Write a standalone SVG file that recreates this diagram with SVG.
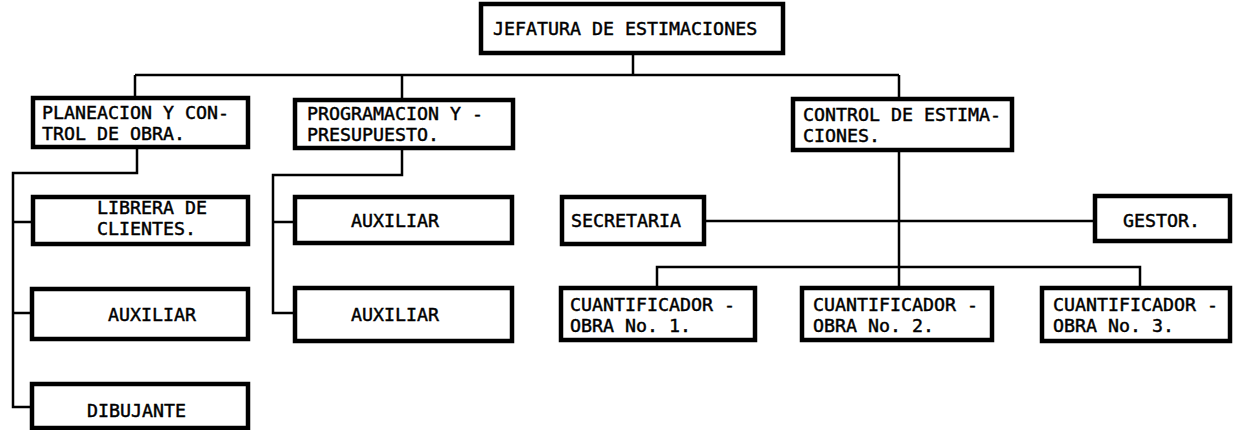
<svg xmlns="http://www.w3.org/2000/svg" width="1233" height="430" viewBox="0 0 1233 430">
<style>
.box{fill:#fff;stroke:#000;stroke-width:4.5}
.t{font-family:"DejaVu Sans Mono","Liberation Mono",monospace;font-size:18.3px;fill:#000;stroke:#000;stroke-width:0.45}
.c{fill:none;stroke:#000;stroke-width:2.5}
</style>
<rect width="1233" height="430" fill="#fff"/>
<g id="connectors">
<path class="c" d="M633 53V75M135 75H899M135 75V98M402 75V100M899 75V99"/>
<path class="c" d="M137 147V173H13V407H33M13 222H33M13 313H33"/>
<path class="c" d="M402 148V175H273V313H295M273 222H295"/>
<path class="c" d="M899 150V288M704 221H1095M657 288V267H1140V288"/>
</g>
<g id="n-jefatura"><rect class="box" x="481" y="4" width="302" height="49"/><text class="t" x="493" y="35">JEFATURA DE ESTIMACIONES</text></g>
<g id="n-planeacion"><rect class="box" x="33" y="98" width="215" height="49"/><text class="t" x="42" y="119">PLANEACION Y CON-</text><text class="t" x="42" y="140">TROL DE OBRA.</text></g>
<g id="n-programacion"><rect class="box" x="295" y="100" width="218" height="48"/><text class="t" x="307" y="120">PROGRAMACION Y -</text><text class="t" x="307" y="141">PRESUPUESTO.</text></g>
<g id="n-control"><rect class="box" x="793" y="99" width="219" height="51"/><text class="t" x="803" y="121">CONTROL DE ESTIMA-</text><text class="t" x="803" y="142">CIONES.</text></g>
<g id="n-librera"><rect class="box" x="33" y="197" width="215" height="47"/><text class="t" x="97" y="214">LIBRERA DE</text><text class="t" x="97" y="235">CLIENTES.</text></g>
<g id="n-auxiliar1"><rect class="box" x="32" y="289" width="216" height="50"/><text class="t" x="108" y="321">AUXILIAR</text></g>
<g id="n-dibujante"><rect class="box" x="32" y="384" width="216" height="44"/><text class="t" x="87" y="417">DIBUJANTE</text></g>
<g id="n-auxiliar2"><rect class="box" x="295" y="197" width="217" height="46"/><text class="t" x="351" y="227">AUXILIAR</text></g>
<g id="n-auxiliar3"><rect class="box" x="295" y="288" width="217" height="53"/><text class="t" x="351" y="321">AUXILIAR</text></g>
<g id="n-secretaria"><rect class="box" x="562" y="197" width="142" height="47"/><text class="t" x="571" y="227">SECRETARIA</text></g>
<g id="n-gestor"><rect class="box" x="1095" y="196" width="135" height="45"/><text class="t" x="1123" y="227">GESTOR.</text></g>
<g id="n-cuant1"><rect class="box" x="561" y="288" width="194" height="52"/><text class="t" x="570" y="311">CUANTIFICADOR -</text><text class="t" x="570" y="332">OBRA No. 1.</text></g>
<g id="n-cuant2"><rect class="box" x="802" y="288" width="190" height="52"/><text class="t" x="813" y="311">CUANTIFICADOR -</text><text class="t" x="813" y="332">OBRA No. 2.</text></g>
<g id="n-cuant3"><rect class="box" x="1042" y="288" width="188" height="53"/><text class="t" x="1053" y="311">CUANTIFICADOR -</text><text class="t" x="1053" y="332">OBRA No. 3.</text></g>
</svg>
